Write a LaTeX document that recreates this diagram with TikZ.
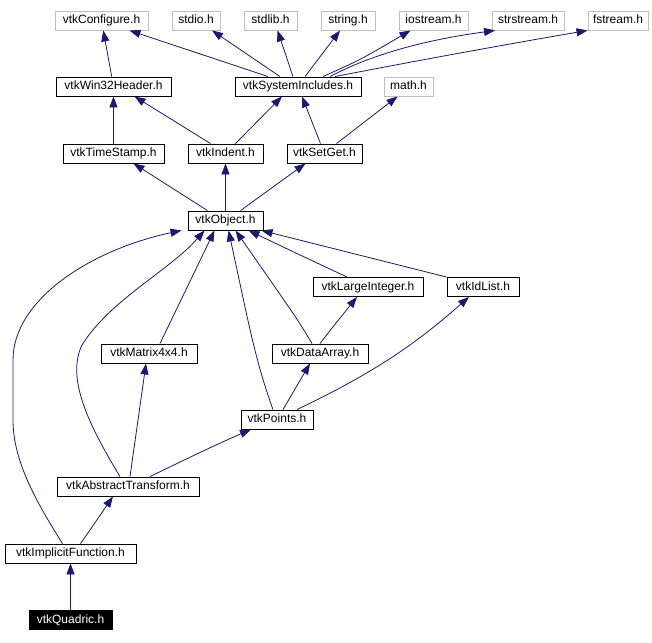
\documentclass[tikz,border=0pt]{standalone}
\usepackage{fontspec}
\setmainfont{Liberation Sans}
\usepackage{tikz}
\usepackage{xcolor}
\usetikzlibrary{arrows.meta, positioning}
\definecolor{edgeblue}{HTML}{191970}
\definecolor{sysgray}{HTML}{BFBFBF}
\tikzstyle{header} = [rectangle,
minimum height=19pt,
inner sep=0pt,
text height=8.5pt,
text depth=2.5pt,
text centered,
font=\fontsize{12}{14}\selectfont,
line width=0.9pt,
draw=black]
\tikzstyle{syshdr} = [header, draw=sysgray]
\tikzstyle{current} = [header, fill=black, text=white]
\tikzstyle{arrow} = [draw=edgeblue, line width=0.8pt, -{Triangle[length=11pt,width=8pt]}]

\begin{document}
\begin{tikzpicture}[x=1pt, y=-1pt]
        \useasboundingbox (0,0) rectangle (652,642);
        % Cabeceras del sistema (fila superior)
        \node (conf) [syshdr, minimum width=93pt] at (101.5,20.5) {vtkConfigure.h};
        \node (stdio) [syshdr, minimum width=48pt] at (196,20.5) {stdio.h};
        \node (stdlib) [syshdr, minimum width=53pt] at (270.5,20.5) {stdlib.h};
        \node (string) [syshdr, minimum width=54pt] at (348,20.5) {string.h};
        \node (iostream) [syshdr, minimum width=69pt] at (433.5,20.5) {iostream.h};
        \node (strstream) [syshdr, minimum width=72pt] at (528,20.5) {strstream.h};
        \node (fstream) [syshdr, minimum width=60pt] at (618,20.5) {fstream.h};

        \node (win32) [header, minimum width=115pt] at (113.5,86.5) {vtkWin32Header.h};
        \node (sysinc) [header, minimum width=126pt] at (298,86.5) {vtkSystemIncludes.h};
        \node (math) [syshdr, minimum width=49pt] at (408.5,86.5) {math.h};

        \node (tstamp) [header, minimum width=101pt] at (113.5,153.5) {vtkTimeStamp.h};
        \node (indent) [header, minimum width=75pt] at (225.5,153.5) {vtkIndent.h};
        \node (setget) [header, minimum width=75pt] at (324.5,153.5) {vtkSetGet.h};

        \node (object) [header, minimum width=75pt] at (225.5,220.5) {vtkObject.h};

        \node (largeint) [header, minimum width=110pt] at (368,287) {vtkLargeInteger.h};
        \node (idlist) [header, minimum width=72pt] at (483,287) {vtkIdList.h};

        \node (matrix) [header, minimum width=96pt] at (149,353.5) {vtkMatrix4x4.h};
        \node (darray) [header, minimum width=96pt] at (320,353.5) {vtkDataArray.h};

        \node (points) [header, minimum width=72pt] at (277,419.5) {vtkPoints.h};
        \node (abstr) [header, minimum width=142pt] at (128,486.5) {vtkAbstractTransform.h};
        \node (implicit) [header, minimum width=131pt] at (70.5,553.5) {vtkImplicitFunction.h};
        \node (quadric) [current, minimum width=83pt] at (70.5,620) {vtkQuadric.h};

        % --- DEPENDENCIAS ---

        % vtkSystemIncludes.h hacia arriba
        \draw [arrow] ([xshift=-30pt]sysinc.north) -- ([xshift=28pt]conf.south);
        \draw [arrow] ([xshift=-18pt]sysinc.north) -- ([xshift=16pt]stdio.south);
        \draw [arrow] ([xshift=-5pt]sysinc.north) -- ([xshift=7pt]stdlib.south);
        \draw [arrow] ([xshift=7pt]sysinc.north) -- ([xshift=-8pt]string.south);
        \draw [arrow] ([xshift=25pt]sysinc.north) .. controls (360,60) .. ([xshift=-23pt]iostream.south);
        \draw [arrow] ([xshift=32pt]sysinc.north) .. controls (380,50) and (440,38) .. ([xshift=-33pt]strstream.south);
        \draw [arrow] ([xshift=37pt]sysinc.north) .. controls (420,60) and (520,42) .. (fstream.south west);

        \draw [arrow] (win32) -- (conf);
        \draw [arrow] (tstamp) -- (win32);
        \draw [arrow] ([xshift=-15pt]indent.north) -- ([xshift=21pt]win32.south);
        \draw [arrow] ([xshift=10pt]indent.north) -- ([xshift=-16pt]sysinc.south);
        \draw [arrow] ([xshift=-4pt]setget.north) -- ([xshift=4pt]sysinc.south);
        \draw [arrow] ([xshift=12pt]setget.north) -- ([xshift=-11pt]math.south);

        % vtkObject.h
        \draw [arrow] ([xshift=-18pt]object.north) -- ([xshift=20pt]tstamp.south);
        \draw [arrow] (object) -- (indent);
        \draw [arrow] ([xshift=15pt]object.north) -- ([xshift=-19pt]setget.south);

        % Hijos de vtkObject.h
        \draw [arrow] ([xshift=-21pt]largeint.north) .. controls (300,255) .. ([xshift=23pt]object.south);
        \draw [arrow] (idlist.north west) -- ([xshift=36pt]object.south);
        \draw [arrow] ([xshift=11pt]matrix.north) -- ([xshift=-11pt]object.south);
        \draw [arrow] ([xshift=-8pt]darray.north) .. controls (298,320) .. ([xshift=10pt]object.south);
        \draw [arrow] ([xshift=-4pt]points.north) .. controls (255,360) and (248,320) .. ([xshift=3pt]object.south);
        \draw [arrow] ([xshift=-8pt]abstr.north) .. controls (92,430) and (65,380) .. (82,345)
              .. controls (110,300) and (170,270) .. ([xshift=-21pt]object.south);
        \draw [arrow] ([xshift=-8pt]implicit.north) .. controls (35,500) and (13,460) .. (13,420)
              -- (13,360) .. controls (13,300) and (90,250) .. ([xshift=-44pt]object.south);

        % Resto de conexiones
        \draw [arrow] (darray.north) .. controls (332,328) .. ([xshift=-11pt]largeint.south);
        \draw [arrow] ([xshift=20pt]points.north) .. controls (380,370) and (420,340) .. ([xshift=-14pt]idlist.south);
        \draw [arrow] ([xshift=6pt]points.north) -- ([xshift=-10pt]darray.south);
        \draw [arrow] ([xshift=22pt]abstr.north) .. controls (180,462) and (215,445) .. ([xshift=-26pt]points.south);
        \draw [arrow] ([xshift=2pt]abstr.north) -- ([xshift=-3pt]matrix.south);
        \draw [arrow] ([xshift=10pt]implicit.north) .. controls (90,530) .. ([xshift=-15pt]abstr.south);
        \draw [arrow] (quadric) -- (implicit);

    \end{tikzpicture}
\end{document}
